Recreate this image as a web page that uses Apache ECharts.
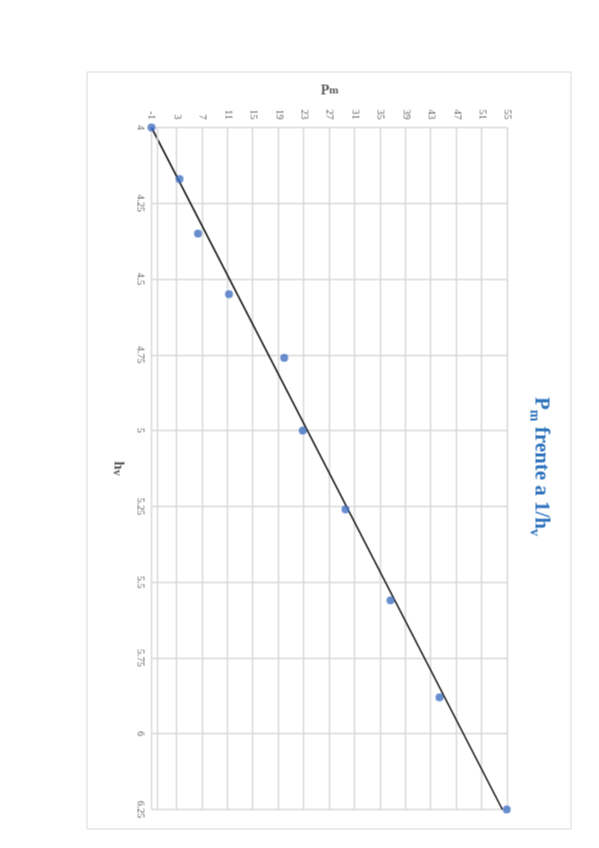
<!DOCTYPE html>
<html><head><meta charset="utf-8">
<script src="https://cdn.jsdelivr.net/npm/echarts@6/dist/echarts.min.js"></script>
<style>
html,body{margin:0;padding:0;width:599px;height:848px;overflow:hidden;background:#fff}
#c{position:absolute;left:-124px;top:124px;width:848px;height:599px;transform:rotate(90deg);transform-origin:50% 50%;}
</style></head><body><div id="c"></div>
<script>
// data
const hv = [4, 4.17, 4.35, 4.55, 4.76, 5, 5.26, 5.56, 5.88, 6.25];
const pm = [-1, 3.4, 6.3, 11.2, 19.9, 22.8, 29.5, 36.6, 44.3, 54.9];
const trendHv = [4, 6.25];
const trendPm = [-1.0, 54.2];
const xMin = 4, xMax = 6.25, xStep = 0.25;
const yMin = -1, yMax = 55, yStep = 4;

const chart = echarts.init(document.getElementById('c'), null, {renderer:'canvas'});
const serif = '"Liberation Serif", "DejaVu Serif", serif';
const gridColor = '#d9d9d9';
chart.setOption({
  animation:false,
  backgroundColor:'#fff',
  grid:{left:128, right:38, top:92, bottom:151},
  graphic:[
    {type:'rect', shape:{x:72.5, y:28.5, width:757, height:484}, style:{fill:'none', stroke:'#d9d9d9', lineWidth:1}, z:-1},
    {type:'text', x:467, y:48, style:{
      text:'{a|P}{s|m}{a| frente a 1/h}{s|v}', textAlign:'center', textVerticalAlign:'top',
      rich:{
        a:{fontFamily:serif, fontSize:21, fontWeight:'bold', fill:'#2f73bd', verticalAlign:'bottom'},
        s:{fontFamily:serif, fontSize:14, fontWeight:'bold', fill:'#2f73bd', verticalAlign:'bottom', padding:[0,0,-3,0]}
      }}}
  ],
  xAxis:{
    type:'value', min:xMin, max:xMax, interval:xStep,
    name:'{a|h}{s|v}', nameLocation:'middle', nameGap:26,
    nameTextStyle:{rich:{
      a:{fontFamily:serif, fontSize:15, fontWeight:'bold', color:'#595959'},
      s:{fontFamily:serif, fontSize:12, fontWeight:'bold', color:'#595959', padding:[3,0,0,0]}
    }},
    axisLine:{show:false, onZero:false},
    axisTick:{show:false},
    axisLabel:{color:'#595959', fontFamily:serif, fontSize:10, margin:6},
    splitLine:{show:true, lineStyle:{color:gridColor, width:1.5}}
  },
  yAxis:{
    type:'value', min:yMin, max:yMax, interval:yStep,
    name:'{a|P}{s|m}', nameLocation:'middle', nameGap:30,
    nameTextStyle:{rich:{
      a:{fontFamily:serif, fontSize:14, fontWeight:'bold', color:'#595959'},
      s:{fontFamily:serif, fontSize:11, fontWeight:'bold', color:'#595959'}
    }},
    axisLine:{show:false},
    axisTick:{show:false},
    axisLabel:{color:'#595959', fontFamily:serif, fontSize:10, margin:8},
    splitLine:{show:true, lineStyle:{color:gridColor, width:1.5}}
  },
  series:[
    {
      type:'line', data:trendHv.map((x,i)=>[x,trendPm[i]]), showSymbol:false, symbol:'none',
      lineStyle:{color:'#111', width:1.5}, z:3, silent:true,
      markLine:{silent:true, symbol:'none', label:{show:false}, lineStyle:{color:gridColor, width:1.5, type:'solid'}, data:[{yAxis:0}]}
    },
    {
      type:'scatter', data:hv.map((x,i)=>[x,pm[i]]), symbol:'circle', symbolSize:8,
      itemStyle:{color:'#4472c4'}, z:4
    }
  ]
});
</script></body></html>
